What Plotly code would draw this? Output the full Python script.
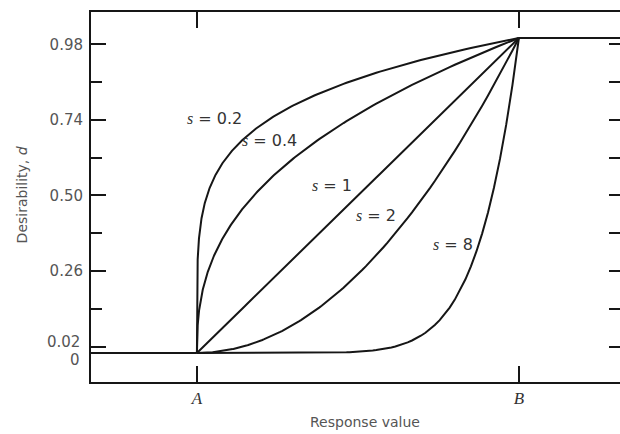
import numpy as np
import plotly.graph_objects as go

# Desirability exponents drawn between the limits A and B
s_values = [0.2, 0.4, 1, 2, 8]
s_texts = ["0.2", "0.4", "1", "2", "8"]
# Where each "s = ..." label sits (scaled response, desirability)
label_x = [0.056, 0.224, 0.419, 0.556, 0.795]
label_y = [0.746, 0.676, 0.533, 0.438, 0.343]

# Response value scaled so that A -> 0 and B -> 1
A, B = 0.0, 1.0
x_range = [-0.329, 1.314]
y_range = [-0.0921, 1.0825]
x_tick_vals = [A, B]
x_tick_text = ["<i>A</i>", "<i>B</i>"]
major_ticks = [0.02, 0.26, 0.50, 0.74, 0.98]
# the two lowest labels are set apart by hand so they do not collide
major_text = ["", "0.26", "0.50", "0.74", "0.98"]
minor_ticks = [0.14, 0.38, 0.62, 0.86]

INK = "#161616"
GREY = "#555555"
SANS = "DejaVu Sans"
SERIF = "Liberation Serif"

fig = go.Figure()

# Flat parts: d = 0 below A, d = 1 above B
fig.add_trace(go.Scatter(x=[x_range[0], A], y=[0, 0], mode="lines",
                         line=dict(color=INK, width=2), showlegend=False))
fig.add_trace(go.Scatter(x=[B, x_range[1]], y=[1, 1], mode="lines",
                         line=dict(color=INK, width=2), showlegend=False))

# d = ((y - A) / (B - A)) ** s between the limits
z = np.concatenate([[0.0], np.geomspace(1e-7, 1.0, 800)])
for s in s_values:
    fig.add_trace(go.Scatter(x=A + z * (B - A), y=z ** s, mode="lines",
                             line=dict(color=INK, width=2), showlegend=False))

# Carrier for the tick-only right-hand axis
fig.add_trace(go.Scatter(x=[None], y=[None], yaxis="y2", showlegend=False))

annotations = []
for sx, sy, st in zip(label_x, label_y, s_texts):
    annotations.append(dict(
        x=sx, y=sy, xref="x", yref="y", showarrow=False,
        xanchor="center", yanchor="middle",
        text=f"<span style='font-family:{SERIF}'><i>s</i></span> = {st}",
        font=dict(family=SANS, size=16, color="#333333")))

annotations += [
    dict(x=0.518, y=-0.108, xref="paper", yref="paper", showarrow=False,
         xanchor="center", yanchor="middle",
         text="Response value", font=dict(family=SANS, size=14, color=GREY)),
    dict(x=-0.130, y=0.505, xref="paper", yref="paper", showarrow=False,
         xanchor="center", yanchor="middle",
         textangle=-90, text="Desirability, <i>d</i>",
         font=dict(family=SANS, size=14, color=GREY)),
    dict(x=-0.017, y=0.036, xref="paper", yref="y", showarrow=False,
         xanchor="right", yanchor="middle",
         text="0.02", font=dict(family=SANS, size=15, color=GREY)),
    dict(x=-0.017, y=-0.022, xref="paper", yref="y", showarrow=False,
         xanchor="right", yanchor="middle",
         text="0", font=dict(family=SANS, size=15, color=GREY)),
]

fig.update_layout(
    width=620, height=434,
    margin=dict(l=91, r=0, t=12, b=52),
    paper_bgcolor="white", plot_bgcolor="white",
    showlegend=False,
    annotations=annotations,
    xaxis=dict(range=x_range, showgrid=False, zeroline=False,
               showline=True, linecolor=INK, linewidth=2, mirror="ticks",
               ticks="inside", ticklen=16, tickwidth=1.5, tickcolor=INK,
               tickvals=x_tick_vals, ticktext=x_tick_text,
               tickfont=dict(family=SERIF, size=17, color="#333333")),
    yaxis=dict(range=y_range, showgrid=False, zeroline=False,
               showline=True, linecolor=INK, linewidth=2, mirror=False,
               ticks="inside", ticklen=15, tickwidth=1.5, tickcolor=INK,
               tickvals=major_ticks, ticktext=major_text,
               tickfont=dict(family=SANS, size=15, color=GREY),
               ticklabelstandoff=3,
               minor=dict(tickvals=minor_ticks, ticks="inside", ticklen=11,
                          tickwidth=1.5, tickcolor=INK, showgrid=False)),
    yaxis2=dict(range=y_range, overlaying="y", side="right", anchor="x",
                showgrid=False, zeroline=False, showline=False,
                ticks="inside", ticklen=11, tickwidth=1.5, tickcolor=INK,
                tickvals=sorted(major_ticks + minor_ticks),
                showticklabels=False),
)

fig.write_html("out.html")
